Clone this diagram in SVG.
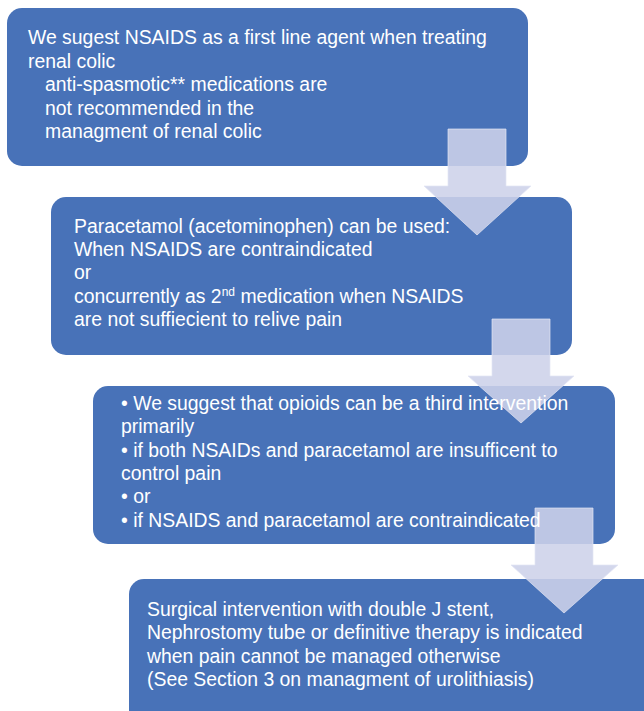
<svg xmlns="http://www.w3.org/2000/svg" width="644" height="711" viewBox="0 0 644 711">
<style>
.box{fill:#4872B8;}
.arrow{fill:#CDD2E9;fill-opacity:0.88;stroke:#E2E6F3;stroke-opacity:0.7;stroke-width:1;}
text{font-family:"Liberation Sans",Arial,sans-serif;font-size:19.4px;fill:#FFFFFF;}
.sup{font-size:12px;}
</style>
<rect width="644" height="711" fill="#FFFFFF"/>
<g id="node1"><rect class="box" x="7" y="8" width="521" height="158" rx="15" ry="15"/></g>
<g id="node2"><rect class="box" x="51" y="197" width="521" height="158" rx="15" ry="15"/></g>
<g id="node3"><rect class="box" x="93" y="386" width="522" height="158" rx="15" ry="15"/></g>
<g id="node4"><rect class="box" x="129" y="579" width="540" height="160" rx="15" ry="15"/></g>
<g id="connectors">
<polygon class="arrow" points="448,129 506,129 506,186 531,186 477,235 424,186 448,186"/>
<polygon class="arrow" points="492,319 550,319 550,376 574,376 521,423 468,376 492,376"/>
<polygon class="arrow" points="535,508 593,508 593,565 618,565 564,613 511,565 535,565"/>
</g>
<g id="node1-text">
<text x="28" y="44">We sugest NSAIDS as a first line agent when treating</text>
<text x="28" y="67.5">renal colic</text>
<text x="45" y="91">anti-spasmotic** medications are</text>
<text x="45" y="114.5">not recommended in the</text>
<text x="45" y="138">managment of renal colic</text>
</g>
<g id="node2-text">
<text x="74" y="233">Paracetamol (acetominophen) can be used:</text>
<text x="74" y="256">When NSAIDS are contraindicated</text>
<text x="74" y="279">or</text>
<text x="74" y="302.5">concurrently as 2<tspan class="sup" dy="-7">nd</tspan><tspan dy="7"> medication when NSAIDS</tspan></text>
<text x="74" y="326">are not suffiecient to relive pain</text>
</g>
<g id="node3-text">
<text x="121" y="410">• We suggest that opioids can be a third intervention</text>
<text x="121" y="433">primarily</text>
<text x="121" y="456.5">• if both NSAIDs and paracetamol are insufficent to</text>
<text x="121" y="480">control pain</text>
<text x="121" y="503">• or</text>
<text x="121" y="526.5">• if NSAIDS and paracetamol are contraindicated</text>
</g>
<g id="node4-text">
<text x="147" y="616">Surgical intervention with double J stent,</text>
<text x="147" y="639">Nephrostomy tube or definitive therapy is indicated</text>
<text x="147" y="662.5">when pain cannot be managed otherwise</text>
<text x="147" y="686">(See Section 3 on managment of urolithiasis)</text>
</g>
</svg>
